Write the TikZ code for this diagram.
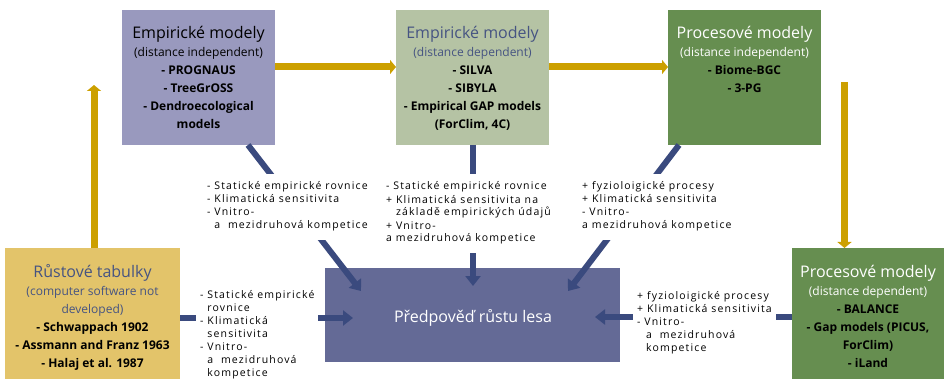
\documentclass[tikz,border=0pt]{standalone}
\usepackage{fontspec}
\setmainfont{Open Sans}
\newfontfamily\lblfont[LetterSpace=11]{Open Sans}
\usetikzlibrary{arrows.meta}
\definecolor{cA}{RGB}{153,153,190}
\definecolor{cB}{RGB}{181,195,164}
\definecolor{cC}{RGB}{102,142,80}
\definecolor{cD}{RGB}{227,196,106}
\definecolor{cE}{RGB}{100,106,150}
\definecolor{navy}{RGB}{58,74,126}
\definecolor{navytxt}{RGB}{70,84,130}
\definecolor{gold}{RGB}{204,160,0}
\tikzset{
  box/.style={draw=none, anchor=north west, inner sep=0pt},
  boxtext/.style={anchor=base, align=center, inner sep=0pt, font=\fontsize{12}{18}\selectfont},
  lbl/.style={anchor=base west, align=left, fill=white, inner xsep=4pt, inner ysep=8pt, font=\lblfont\fontsize{10.5}{13}\selectfont},
  goldarrow/.style={draw=gold, line width=7pt, -{Triangle[width=14pt,length=6pt]}},
  navyarrow/.style={draw=navy, line width=6pt, -{Triangle[width=15pt,length=10pt]}},
}
\newcommand{\ttl}[1]{{\fontsize{16}{18}\selectfont #1}}
\begin{document}
\begin{tikzpicture}[x=1pt,y=-1pt]
\useasboundingbox (0,0) rectangle (944,379);
% boxes
\node[box, fill=cA, minimum width=153pt, minimum height=135pt] (A) at (122,10) {};
\node[box, fill=cB, minimum width=153pt, minimum height=135pt] (B) at (396,10) {};
\node[box, fill=cC, minimum width=153pt, minimum height=135pt] (C) at (668,10) {};
\node[box, fill=cD, minimum width=175pt, minimum height=131pt] (D) at (5,248) {};
\node[box, fill=cE, minimum width=295pt, minimum height=94pt] (E) at (325,268) {};
\node[box, fill=cC, minimum width=152pt, minimum height=131pt] (F) at (792,248) {};
% box texts (base anchor = last line baseline)
\node[boxtext] (tA) at (198.5,129) {\ttl{Empirické modely}\\(distance independent)\\\textbf{- PROGNAUS}\\\textbf{- TreeGrOSS}\\\textbf{- Dendroecological}\\\textbf{models}};
\node[boxtext, text=navytxt] (tB) at (472.5,129) {\ttl{Empirické modely}\\(distance dependent)\\\textcolor{black}{\textbf{- SILVA}}\\\textcolor{black}{\textbf{- SIBYLA}}\\\textcolor{black}{\textbf{- Empirical GAP models}}\\\textcolor{black}{\textbf{(ForClim, 4C)}}};
\node[boxtext, text=white] (tC) at (744.5,93) {\ttl{Procesové modely}\\(distance independent)\\\textcolor{black}{\textbf{- Biome-BGC}}\\\textcolor{black}{\textbf{- 3-PG}}};
\node[boxtext, text=navytxt] (tD) at (92.5,367) {\ttl{Růstové tabulky}\\(computer software not\\developed)\\\textcolor{black}{\textbf{- Schwappach 1902}}\\\textcolor{black}{\textbf{- Assmann and Franz 1963}}\\\textcolor{black}{\textbf{- Halaj et al. 1987}}};
\node[boxtext, text=white] (tF) at (868,367) {\ttl{Procesové modely}\\(distance dependent)\\\textcolor{black}{\textbf{- BALANCE}}\\\textcolor{black}{\textbf{- Gap models (PICUS,}}\\\textcolor{black}{\textbf{ForClim)}}\\\textcolor{black}{\textbf{- iLand}}};
\node[anchor=center, text=white, font=\fontsize{16}{18}\selectfont, inner sep=0pt] (tE) at (473,318) {Předpověď růstu lesa};
% gold arrows
\coordinate (upEnd) at (94,85);
\coordinate (dnStart) at (844.5,82);
\draw[goldarrow] (A.east |- 0,67) -- (B.west |- 0,67);
\draw[goldarrow] (B.east |- 0,67) -- (C.west |- 0,67);
\draw[goldarrow] (D.north -| upEnd) -- (upEnd);
\draw[goldarrow] (dnStart) -- (F.north -| dnStart);
% navy arrows
\coordinate (a1) at (248,145);
\coordinate (a2) at (361,291);
\coordinate (b1) at (473,145);
\coordinate (b2) at (473,286);
\coordinate (c1) at (679,145);
\coordinate (c2) at (568,291);
\coordinate (d2) at (353,318);
\coordinate (f2) at (595,317);
\draw[navyarrow] (a1) -- (a2);
\draw[navyarrow] (b1) -- (b2);
\draw[navyarrow] (c1) -- (c2);
\draw[navyarrow] (D.east |- d2) -- (d2);
\draw[navyarrow] (F.west |- f2) -- (f2);
% labels (base anchor = last line baseline)
\node[lbl] (L1) at (203,229) {- Statické empirické rovnice\\- Klimatická sensitivita\\- Vnitro-\\\phantom{- }a\ \ mezidruhová kompetice};
\node[lbl] (L2) at (382,242) {- Statické empirické rovnice\\+ Klimatická sensitivita na\\\phantom{+ }základě empirických údajů\\+ Vnitro-\\a mezidruhová kompetice};
\node[lbl] (L3) at (578,229) {+ fyzioloigické procesy\\+ Klimatická sensitivita\\- Vnitro-\\a mezidruhová kompetice};
\node[lbl] (L4) at (196,376) {- Statické empirické\\\phantom{- }rovnice\\- Klimatická\\\phantom{- }sensitivita\\- Vnitro-\\\phantom{- }a\ \ mezidruhová\\\phantom{- }kompetice};
\node[lbl] (L5) at (633,351) {+ fyzioloigické procesy\\+ Klimatická sensitivita\hspace*{10pt}\\- Vnitro-\\\phantom{- }\,a\ \ mezidruhová\\\phantom{- }\,kompetice};
\end{tikzpicture}
\end{document}
